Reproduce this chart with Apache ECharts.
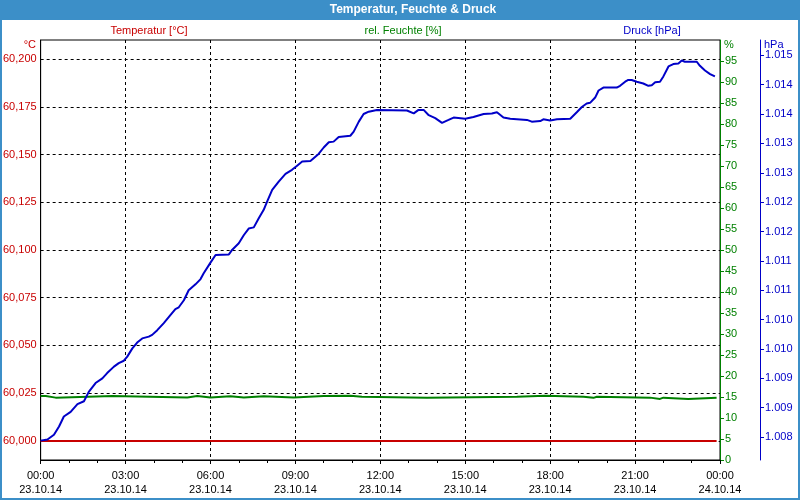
<!DOCTYPE html>
<html><head><meta charset="utf-8">
<script src="https://cdn.jsdelivr.net/npm/echarts@6/dist/echarts.min.js"></script>
<style>html,body{margin:0;padding:0;background:#fff}#c{width:800px;height:500px}</style>
</head><body><div id="c"></div>
<script>
// time in hours since 23.10.14 00:00
const pressTimes = [0,0.24,0.47,0.65,0.82,1.06,1.30,1.53,1.70,1.94,2.18,2.35,2.59,2.76,2.94,3.06,3.24,3.41,3.59,3.82,3.94,4.12,4.35,4.59,4.76,4.88,5.06,5.23,5.47,5.65,5.76,6.00,6.18,6.65,6.77,7.00,7.18,7.35,7.53,7.71,7.88,8.00,8.18,8.41,8.65,8.88,9.06,9.24,9.53,9.82,10.00,10.18,10.35,10.53,10.94,11.06,11.24,11.41,11.59,11.88,12.94,13.18,13.35,13.53,13.71,13.94,14.18,14.41,14.59,15.00,15.29,15.65,15.94,16.12,16.35,16.59,17.18,17.35,17.65,17.76,18.00,18.24,18.71,18.94,19.12,19.29,19.41,19.59,19.71,19.88,20.35,20.47,20.65,20.76,20.88,21.06,21.29,21.47,21.59,21.71,21.88,22.00,22.18,22.35,22.53,22.65,22.76,23.18,23.29,23.47,23.65,23.82];
const pressValues = [1.00794,1.00796,1.00804,1.00818,1.00835,1.00843,1.00856,1.00861,1.00877,1.00892,1.00900,1.00909,1.00920,1.00926,1.00930,1.00937,1.00951,1.00961,1.00968,1.00971,1.00974,1.00982,1.00994,1.01008,1.01018,1.01021,1.01033,1.01050,1.01060,1.01069,1.01079,1.01097,1.01110,1.01111,1.01119,1.01130,1.01144,1.01155,1.01157,1.01173,1.01187,1.01201,1.01221,1.01235,1.01248,1.01255,1.01262,1.01269,1.01270,1.01282,1.01293,1.01302,1.01303,1.01311,1.01313,1.01320,1.01337,1.01350,1.01354,1.01357,1.01356,1.01351,1.01357,1.01357,1.01348,1.01343,1.01335,1.01340,1.01344,1.01342,1.01345,1.01350,1.01351,1.01353,1.01344,1.01342,1.01340,1.01337,1.01338,1.01341,1.01339,1.01341,1.01342,1.01353,1.01362,1.01368,1.01369,1.01378,1.01390,1.01395,1.01395,1.01398,1.01405,1.01408,1.01408,1.01405,1.01402,1.01398,1.01399,1.01404,1.01405,1.01414,1.01431,1.01435,1.01436,1.01441,1.01439,1.01439,1.01432,1.01424,1.01418,1.01414];
const humTimes = [0,0.18,0.53,2.53,5.18,5.53,6.00,6.70,7.18,7.88,8.94,10.00,10.94,11.35,13.65,16.82,17.82,19.18,19.53,19.65,21.53,21.88,22.00,22.88,23.88];
const humValues = [15.25,14.85,15.25,14.9,15.25,14.9,15.2,14.9,15.2,14.9,15.25,15.3,15.05,14.85,15.05,15.3,15.05,14.8,15.05,14.85,14.55,14.85,14.55,14.8,14.8];
const tempTimes = [0, 23.88];
const tempValues = [60.000, 60.000];
const xTickLabels = ['00:00\n23.10.14','03:00\n23.10.14','06:00\n23.10.14','09:00\n23.10.14','12:00\n23.10.14','15:00\n23.10.14','18:00\n23.10.14','21:00\n23.10.14','00:00\n24.10.14'];
const tempTicks = [60.000,60.025,60.050,60.075,60.100,60.125,60.150,60.175,60.200];
const tempTickLabels = ['60,000','60,025','60,050','60,075','60,100','60,125','60,150','60,175','60,200'];
const pressTicks = [1.0080,1.0085,1.0090,1.0095,1.0100,1.0105,1.0110,1.0115,1.0120,1.0125,1.0130,1.0135,1.0140,1.0145];
const pressTickLabels = ['1.008','1.009','1.009','1.010','1.010','1.011','1.011','1.012','1.012','1.013','1.013','1.014','1.014','1.015'];

const RED = '#c80000', GREEN = '#008000', BLUE = '#0000c8', FRAME = '#3c8fc8';
const FONT = 'Liberation Sans';
function zip(a, b) { return a.map((v, i) => [v, b[i]]); }
function nearestLabel(ticks, labels, v) {
  let best = 0;
  ticks.forEach((t, i) => { if (Math.abs(t - v) < Math.abs(ticks[best] - v)) best = i; });
  return labels[best];
}

const chart = echarts.init(document.getElementById('c'), null, {renderer: 'canvas'});
chart.setOption({
  animation: false,
  backgroundColor: '#ffffff',
  textStyle: {fontFamily: FONT, fontSize: 11},
  grid: {left: 40, right: 80, top: 40, bottom: 40, show: true, borderColor: '#000', borderWidth: 1, backgroundColor: '#ffffff'},
  graphic: [
    {type: 'rect', left: 0, top: 0, shape: {width: 800, height: 20}, style: {fill: FRAME}, z: 10},
    {type: 'rect', left: 0, top: 0, shape: {width: 2, height: 500}, style: {fill: FRAME}, z: 10},
    {type: 'rect', left: 798, top: 0, shape: {width: 2, height: 500}, style: {fill: FRAME}, z: 10},
    {type: 'rect', left: 0, top: 498, shape: {width: 800, height: 2}, style: {fill: FRAME}, z: 10},
    {type: 'text', x: 413, y: 10, style: {text: 'Temperatur, Feuchte & Druck', fill: '#fff', font: 'bold 12px ' + FONT, textAlign: 'center', textVerticalAlign: 'middle'}, z: 11},
    {type: 'text', x: 149, y: 31, style: {text: 'Temperatur [°C]', fill: RED, font: '11px ' + FONT, textAlign: 'center', textVerticalAlign: 'middle'}},
    {type: 'text', x: 403, y: 31, style: {text: 'rel. Feuchte [%]', fill: GREEN, font: '11px ' + FONT, textAlign: 'center', textVerticalAlign: 'middle'}},
    {type: 'text', x: 652, y: 31, style: {text: 'Druck [hPa]', fill: BLUE, font: '11px ' + FONT, textAlign: 'center', textVerticalAlign: 'middle'}},
    {type: 'text', x: 36, y: 45, style: {text: '°C', fill: RED, font: '11px ' + FONT, textAlign: 'right', textVerticalAlign: 'middle'}},
    {type: 'text', x: 724, y: 45, style: {text: '%', fill: GREEN, font: '11px ' + FONT, textAlign: 'left', textVerticalAlign: 'middle'}},
    {type: 'text', x: 764, y: 45, style: {text: 'hPa', fill: BLUE, font: '11px ' + FONT, textAlign: 'left', textVerticalAlign: 'middle'}}
  ],
  xAxis: {
    type: 'value', min: 0, max: 24, interval: 3,
    axisLine: {onZero: false, lineStyle: {color: '#000', width: 1}},
    axisTick: {show: true, length: 4, lineStyle: {color: '#000'}},
    minorTick: {show: true, splitNumber: 3, length: 3, lineStyle: {color: '#000'}},
    splitLine: {show: true, lineStyle: {color: '#000', type: [3, 3], width: 1}},
    axisLabel: {color: '#000', fontSize: 11, fontFamily: FONT, margin: 9, lineHeight: 14,
      formatter: v => xTickLabels[Math.round(v / 3)]}
  },
  yAxis: [
    {
      type: 'value', position: 'left', min: 59.99, max: 60.21,
      axisLine: {show: true, lineStyle: {color: '#000'}},
      axisTick: {show: false, customValues: tempTicks},
      splitLine: {show: true, lineStyle: {color: '#000', type: [3, 3], width: 1}},
      axisLabel: {color: RED, fontSize: 11, fontFamily: FONT, margin: 4, customValues: tempTicks,
        formatter: v => nearestLabel(tempTicks, tempTickLabels, v)}
    },
    {
      type: 'value', position: 'right', min: 0, max: 100, interval: 5,
      axisLine: {show: true, lineStyle: {color: GREEN}},
      axisTick: {show: true, length: 4, lineStyle: {color: GREEN}},
      splitLine: {show: false},
      axisLabel: {color: GREEN, fontSize: 11, fontFamily: FONT, margin: 5, showMaxLabel: false,
        formatter: v => (v >= 100 ? '' : String(v))}
    },
    {
      type: 'value', position: 'right', offset: 40, min: 1.00761, max: 1.01476,
      axisLine: {show: true, lineStyle: {color: BLUE}},
      axisTick: {show: true, length: 4, lineStyle: {color: BLUE}, customValues: pressTicks},
      splitLine: {show: false},
      axisLabel: {color: BLUE, fontSize: 11, fontFamily: FONT, margin: 5, customValues: pressTicks,
        formatter: v => nearestLabel(pressTicks, pressTickLabels, v)}
    }
  ],
  series: [
    {type: 'line', name: 'rel. Feuchte [%]', yAxisIndex: 1, data: zip(humTimes, humValues), step: 'end',
      showSymbol: false, lineStyle: {color: GREEN, width: 2}, itemStyle: {color: GREEN}, z: 3},
    {type: 'line', name: 'Temperatur [°C]', yAxisIndex: 0, data: zip(tempTimes, tempValues),
      showSymbol: false, lineStyle: {color: RED, width: 2}, itemStyle: {color: RED}, z: 4},
    {type: 'line', name: 'Druck [hPa]', yAxisIndex: 2, data: zip(pressTimes, pressValues),
      showSymbol: false, lineStyle: {color: BLUE, width: 2}, itemStyle: {color: BLUE}, z: 5}
  ]
});
</script>
</body></html>
